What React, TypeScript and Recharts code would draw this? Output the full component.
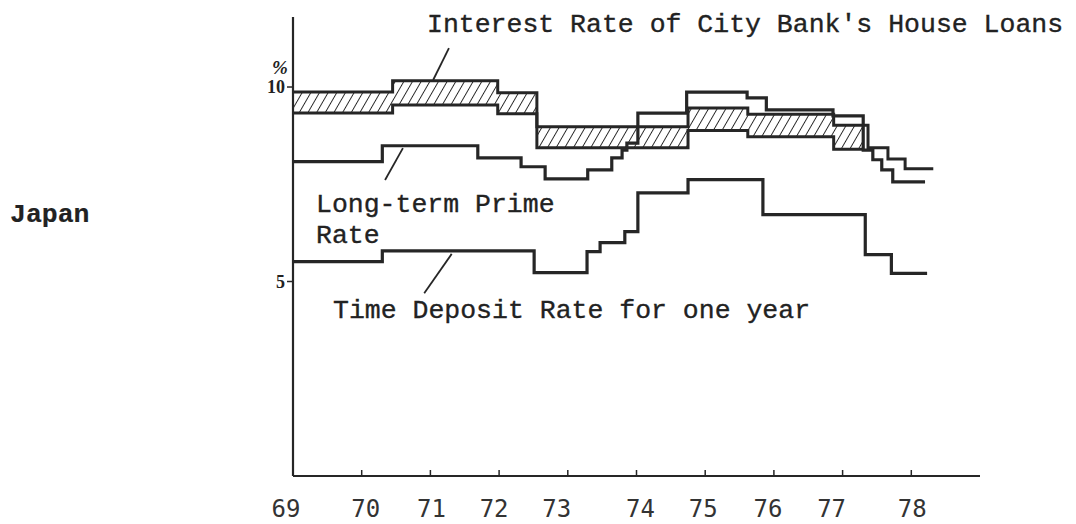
import React from 'react';
import { ComposedChart, Area, Line, XAxis, YAxis, ReferenceLine } from 'recharts';

// Japan: house loans vs. long-term prime vs. 1-year time deposit, 1969-78

const YEAR_TICKS = [69, 70, 71, 72, 73, 74, 75, 76, 77, 78];
const RATE_TICKS = [5, 10];

// hatched band — City Bank house loan rate (low / high edge)
const loanYears = [69, 70.45, 71.98, 72.55, 74.75, 75.62, 76.87, 77.3];
const loanHigh = [9.87, 10.16, 9.85, 8.98, 9.46, 9.3, 9.02, 9.02];
const loanLow = [9.33, 9.54, 9.31, 8.44, 8.88, 8.72, 8.4, 8.4];

// house loan rate after the band closes
const loanTailYears = [77.3, 77.37, 77.66, 77.91, 78.32];
const loanTail = [9.02, 8.44, 8.15, 7.9, 7.9];

const primeYears = [69, 70.3, 71.69, 72.32, 72.67, 73.29, 73.64, 73.79, 73.86, 74.02, 74.73, 75.61, 75.89, 76.86, 77.3, 77.44, 77.57, 77.73, 78.2];
const primeRate = [8.08, 8.49, 8.18, 7.95, 7.64, 7.87, 8.18, 8.38, 8.56, 9.33, 9.87, 9.72, 9.41, 9.26, 8.38, 8.13, 7.87, 7.56, 7.56];

const depositYears = [69, 70.3, 72.51, 73.28, 73.47, 73.83, 74.02, 74.75, 75.84, 77.33, 77.71, 78.23];
const depositRate = [5.51, 5.79, 5.23, 5.77, 6.0, 6.28, 7.28, 7.62, 6.72, 5.69, 5.21, 5.21];

const zip = (xs: number[], ys: number[]) => xs.map((x, i) => ({ x, y: ys[i] }));

const band = loanYears.map((x, i) => ({ x, range: [loanLow[i], loanHigh[i]] }));
const tail = zip(loanTailYears, loanTail);
const prime = zip(primeYears, primeRate);
const deposit = zip(depositYears, depositRate);

/* ── styling ─────────────────────────────────────────── */
const INK = '#262626';
const MONO = '"Liberation Mono", "DejaVu Sans Mono", monospace';

// printed year labels sit a little off their tick marks
const LABEL_NUDGE: Record<number, number> = { 69: -7, 70: 4, 71: 1, 72: -5, 73: -11, 74: 4, 75: -2, 76: -6, 77: -11, 78: 1 };

function YearTick({ x, y, payload }: any) {
  const v = payload.value;
  return (
    <g>
      {v !== 69 && <line x1={x} y1={y} x2={x} y2={y - 6} stroke={INK} strokeWidth={1.5} />}
      <text x={x + (LABEL_NUDGE[v] ?? 0)} y={y + 41} textAnchor="middle"
        style={{ fontFamily: '"DejaVu Sans Mono", monospace', fontSize: 24, fill: '#333' }}>
        {v}
      </text>
    </g>
  );
}

function RateTick({ x, y, payload }: any) {
  return (
    <text x={x} y={y + 6} textAnchor="end"
      style={{ fontFamily: '"Liberation Serif", serif', fontSize: 18, fontWeight: 700, fill: '#222' }}>
      {payload.value}
    </text>
  );
}

const txt = { fontFamily: MONO, fontSize: 26.5, fill: '#222', stroke: '#222', strokeWidth: 0.35 } as const;

export default function App() {
  return (
    <div style={{ position: 'relative', width: 1076, height: 524, background: '#fff' }}>
      <style>{'body{margin:0;background:#fff}'}</style>
      <ComposedChart width={1076} height={524} margin={{ top: 17, right: 96, left: 253, bottom: 4 }}>
        <defs>
          <pattern id="hatch" patternUnits="userSpaceOnUse" width="7.5" height="8" patternTransform="rotate(30)">
            <line x1="0" y1="0" x2="0" y2="8" stroke={INK} strokeWidth={1.9} />
          </pattern>
        </defs>
        <XAxis dataKey="x" type="number" domain={[69, 79]} ticks={YEAR_TICKS} interval={0}
          allowDataOverflow height={44} tickLine={false} tickSize={0} tickMargin={0}
          axisLine={{ stroke: INK, strokeWidth: 2.2 }} tick={<YearTick />} />
        <YAxis type="number" domain={[0, 11.8]} ticks={RATE_TICKS} width={40}
          tickSize={6} tickMargin={2} tickLine={{ stroke: INK, strokeWidth: 1.5 }}
          axisLine={{ stroke: INK, strokeWidth: 2.2 }} tick={<RateTick />} />

        <Area data={band} dataKey="range" type="stepAfter" stroke={INK} strokeWidth={3}
          fill="url(#hatch)" fillOpacity={1} isAnimationActive={false} />
        <Line data={tail} dataKey="y" type="stepAfter" stroke={INK} strokeWidth={3} dot={false} isAnimationActive={false} />
        <Line data={prime} dataKey="y" type="stepAfter" stroke={INK} strokeWidth={3.2} dot={false} isAnimationActive={false} />
        <Line data={deposit} dataKey="y" type="stepAfter" stroke={INK} strokeWidth={3.2} dot={false} isAnimationActive={false} />

        {/* leader lines from the captions */}
        <ReferenceLine segment={[{ x: 71.27, y: 11.0 }, { x: 71.04, y: 10.18 }]} stroke={INK} strokeWidth={1.8} ifOverflow="visible" />
        <ReferenceLine segment={[{ x: 70.6, y: 8.43 }, { x: 70.34, y: 7.61 }]} stroke={INK} strokeWidth={1.8} ifOverflow="visible" />
        <ReferenceLine segment={[{ x: 71.31, y: 5.71 }, { x: 70.91, y: 4.7 }]} stroke={INK} strokeWidth={1.8} ifOverflow="visible" />
      </ComposedChart>

      <svg width={1076} height={524} style={{ position: 'absolute', left: 0, top: 0, pointerEvents: 'none' }}>
        <text x={427} y={32} style={txt}>Interest Rate of City Bank's House Loans</text>
        <text x={316} y={212} style={txt}>Long-term Prime</text>
        <text x={316} y={243} style={txt}>Rate</text>
        <text x={333} y={318} style={txt}>Time Deposit Rate for one year</text>
        <text x={10} y={222} style={{ ...txt, fontWeight: 700, strokeWidth: 0.2 }}>Japan</text>
        <text x={272} y={74} style={{ fontFamily: '"Liberation Serif", serif', fontSize: 19, fontWeight: 700, fontStyle: 'italic', fill: '#222' }}>%</text>
      </svg>
    </div>
  );
}
